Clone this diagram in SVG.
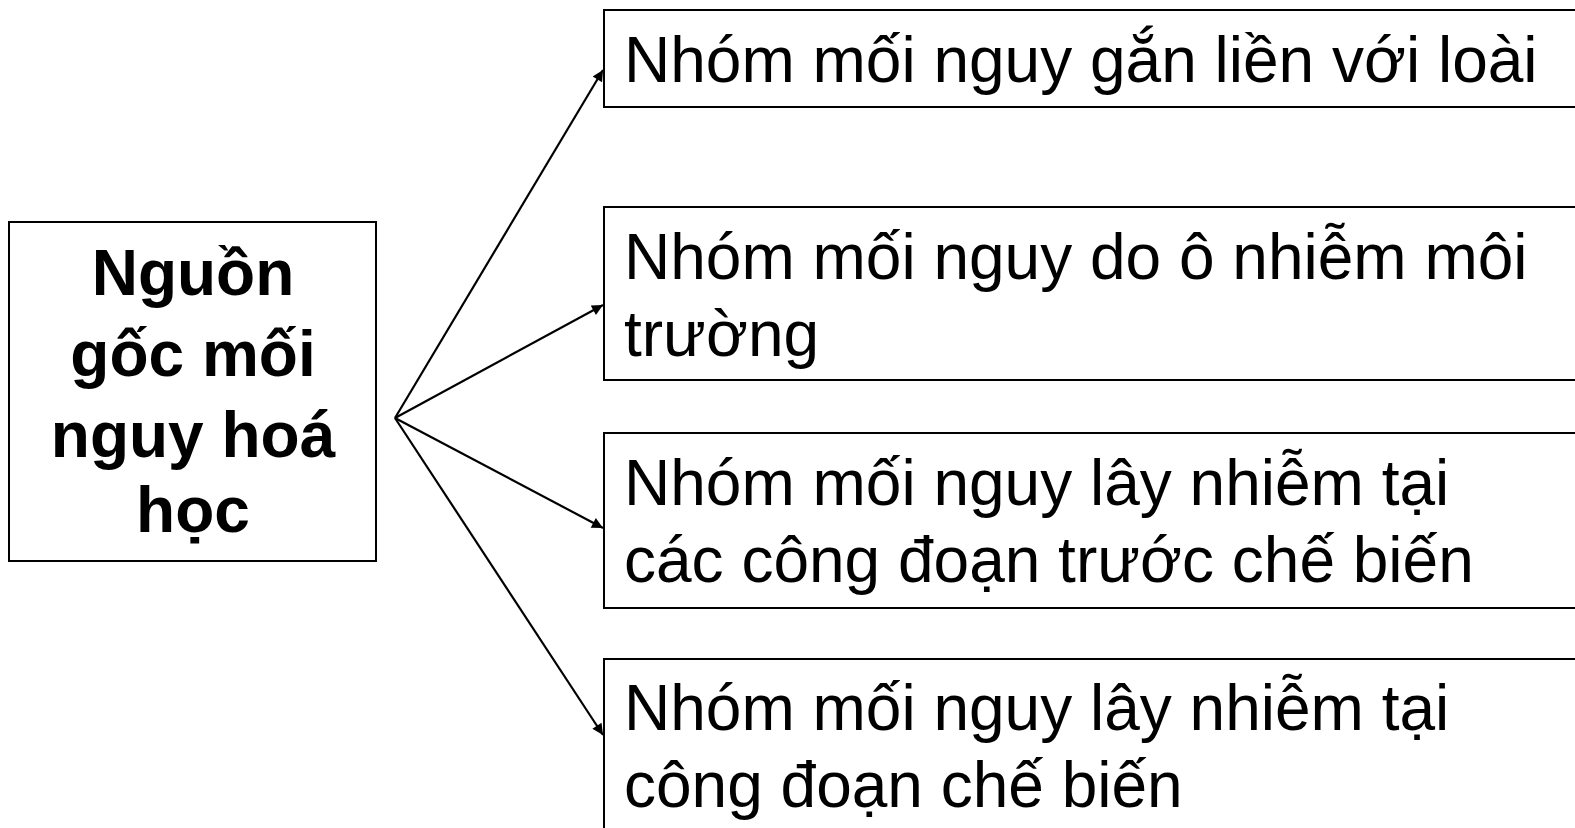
<svg xmlns="http://www.w3.org/2000/svg" width="1575" height="828" viewBox="0 0 1575 828">
  <style>
    .box { fill: #ffffff; stroke: #000000; stroke-width: 2; }
    .src { font-family: "Liberation Sans", Arial, sans-serif; font-size: 64px; font-weight: bold; fill: #000000; text-anchor: middle; }
    .item { font-family: "Liberation Sans", Arial, sans-serif; font-size: 64px; fill: #000000; }
    .link { stroke: #000000; stroke-width: 2.2; fill: none; marker-end: url(#arrow); }
  </style>
  <defs>
    <marker id="arrow" viewBox="0 0 10 10" refX="10" refY="5" markerWidth="7" markerHeight="5" markerUnits="strokeWidth" orient="auto">
      <path d="M0,0 L10,5 L0,10 Z" fill="#000000"/>
    </marker>
  </defs>
  <rect width="1575" height="828" fill="#ffffff"/>

  <g id="source">
    <rect class="box" x="9" y="222" width="367" height="339"/>
    <text class="src" x="193" y="295">Nguồn</text>
    <text class="src" x="193" y="376">gốc mối</text>
    <text class="src" x="193" y="457">nguy hoá</text>
    <text class="src" x="193" y="532">học</text>
  </g>

  <g id="connectors">
    <line class="link" x1="395" y1="418" x2="603" y2="70"/>
    <line class="link" x1="395" y1="418" x2="603" y2="305"/>
    <line class="link" x1="395" y1="418" x2="603" y2="528"/>
    <line class="link" x1="395" y1="418" x2="603" y2="735"/>
  </g>

  <g id="group-species">
    <rect class="box" x="604" y="10" width="990" height="97"/>
    <text class="item" x="624" y="82">Nhóm mối nguy gắn liền với loài</text>
  </g>

  <g id="group-environment">
    <rect class="box" x="604" y="207" width="990" height="173"/>
    <text class="item" x="624" y="279">Nhóm mối nguy do ô nhiễm môi</text>
    <text class="item" x="624" y="356">trường</text>
  </g>

  <g id="group-pre-processing">
    <rect class="box" x="604" y="433" width="990" height="175"/>
    <text class="item" x="624" y="505">Nhóm mối nguy lây nhiễm tại</text>
    <text class="item" x="624" y="582">các công đoạn trước chế biến</text>
  </g>

  <g id="group-processing">
    <rect class="box" x="604" y="659" width="990" height="200"/>
    <text class="item" x="624" y="730">Nhóm mối nguy lây nhiễm tại</text>
    <text class="item" x="624" y="807">công đoạn chế biến</text>
  </g>
</svg>
